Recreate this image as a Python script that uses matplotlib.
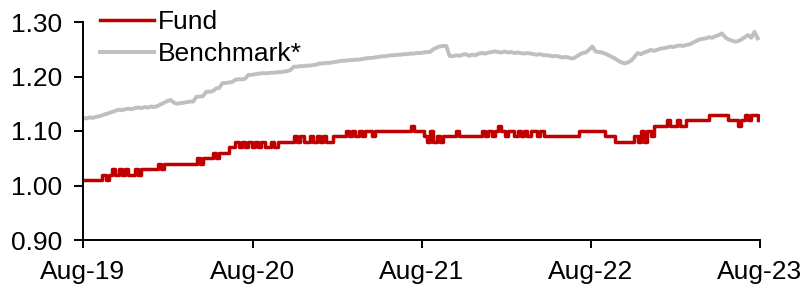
import matplotlib
matplotlib.use("Agg")
import matplotlib.pyplot as plt
import matplotlib.dates as mdates
import pandas as pd

plt.rcParams['font.family'] = ['Liberation Sans', 'DejaVu Sans']

# weekly observations, Aug-2019 .. Aug-2023
dates = pd.date_range('2019-08-01', periods=209, freq='7D')

fund = ([1.01] * 5
        + [1.01, 1.02, 1.01, 1.02, 1.03, 1.02, 1.03, 1.02, 1.03, 1.02, 1.02, 1.03, 1.02]
        + [1.03] * 5
        + [1.04, 1.03, 1.04]
        + [1.04] * 9
        + [1.05, 1.04, 1.05, 1.05, 1.05]
        + [1.06, 1.05, 1.06, 1.06, 1.06]
        + [1.07, 1.07, 1.08, 1.07, 1.08, 1.07, 1.08, 1.07]
        + [1.08, 1.07, 1.08, 1.07, 1.07, 1.08, 1.07, 1.08]
        + [1.08] * 4
        + [1.09, 1.08, 1.09, 1.08, 1.08, 1.09, 1.08, 1.09, 1.08, 1.09, 1.08, 1.08]
        + [1.09] * 4
        + [1.10, 1.09, 1.10, 1.09, 1.10, 1.09, 1.10, 1.10, 1.09, 1.10]
        + [1.10] * 10 + [1.11] + [1.10] * 3
        + [1.09, 1.08, 1.10, 1.08, 1.09, 1.08, 1.09]
        + [1.09, 1.09, 1.09, 1.10, 1.09, 1.09, 1.09, 1.09, 1.09, 1.09, 1.09]
        + [1.10, 1.09, 1.10, 1.09, 1.10, 1.11, 1.10, 1.09, 1.10, 1.10, 1.09,
           1.10, 1.09, 1.10, 1.09, 1.10, 1.10, 1.09, 1.10, 1.09, 1.09]
        + [1.09] * 9
        + [1.10] * 8
        + [1.09] * 3
        + [1.08] * 5
        + [1.08, 1.09, 1.08, 1.10, 1.08, 1.10, 1.09]
        + [1.11] * 4
        + [1.12, 1.11, 1.11, 1.12, 1.11, 1.11, 1.12]
        + [1.12] * 6
        + [1.13] * 6
        + [1.12] * 3
        + [1.11, 1.12, 1.13, 1.12, 1.13, 1.13, 1.12])

benchmark = [
    1.124, 1.123, 1.125, 1.124, 1.126, 1.127,
    1.129, 1.131, 1.133, 1.135, 1.137, 1.139,
    1.138, 1.140, 1.141, 1.140, 1.142, 1.143,
    1.142, 1.144, 1.143, 1.145, 1.144, 1.146,
    1.149, 1.152, 1.155, 1.157, 1.152, 1.150,
    1.151, 1.152, 1.153, 1.154, 1.154, 1.163,
    1.163, 1.164, 1.172, 1.172, 1.173, 1.178,
    1.179, 1.188, 1.188, 1.189, 1.190, 1.194,
    1.195, 1.195, 1.196, 1.203, 1.203, 1.204,
    1.205, 1.206, 1.206, 1.206, 1.207, 1.207,
    1.208, 1.208, 1.209, 1.210, 1.212, 1.218,
    1.218, 1.219, 1.219, 1.220, 1.220, 1.221,
    1.222, 1.224, 1.224, 1.225, 1.225, 1.226,
    1.227, 1.228, 1.229, 1.229, 1.230, 1.230,
    1.231, 1.231, 1.232, 1.233, 1.234, 1.234,
    1.235, 1.236, 1.237, 1.237, 1.238, 1.239,
    1.239, 1.240, 1.240, 1.241, 1.241, 1.242,
    1.242, 1.243, 1.243, 1.244, 1.245, 1.245,
    1.250, 1.253, 1.255, 1.256, 1.256, 1.238,
    1.237, 1.239, 1.238, 1.240, 1.241, 1.238,
    1.240, 1.239, 1.242, 1.243, 1.242, 1.244,
    1.245, 1.246, 1.245, 1.244, 1.246, 1.244,
    1.245, 1.243, 1.244, 1.243, 1.242, 1.243,
    1.242, 1.241, 1.240, 1.241, 1.239, 1.239,
    1.238, 1.237, 1.238, 1.236, 1.235, 1.236,
    1.234, 1.233, 1.236, 1.240, 1.243, 1.244,
    1.249, 1.255, 1.246, 1.245, 1.244, 1.242,
    1.239, 1.236, 1.233, 1.229, 1.226, 1.224,
    1.226, 1.229, 1.236, 1.243, 1.241, 1.244,
    1.246, 1.249, 1.247, 1.249, 1.251, 1.252,
    1.253, 1.255, 1.254, 1.256, 1.257, 1.256,
    1.258, 1.259, 1.262, 1.265, 1.268, 1.269,
    1.270, 1.272, 1.271, 1.274, 1.276, 1.279,
    1.272, 1.268, 1.266, 1.264, 1.265, 1.268,
    1.272, 1.276, 1.271, 1.282, 1.270,
]

y_ticks = [0.90, 1.00, 1.10, 1.20, 1.30]
x_ticks = pd.to_datetime(['2019-08-01', '2020-08-01', '2021-08-01', '2022-08-01', '2023-08-01'])

fig = plt.figure(figsize=(8.05, 2.88), dpi=100)
ax = fig.add_axes([83 / 805, 1 - 240 / 288, 677 / 805, 218 / 288])

ax.plot(dates, fund, color='#C00000', lw=2.5, drawstyle='steps-post', label='Fund')
ax.plot(dates, benchmark, color='#BFBFBF', lw=2.8, label='Benchmark*')

ax.set_xlim(x_ticks[0], x_ticks[-1])
ax.set_ylim(0.90, 1.30)
ax.set_yticks(y_ticks)
ax.yaxis.set_major_formatter(plt.FormatStrFormatter('%.2f'))
ax.set_xticks(x_ticks)
ax.xaxis.set_major_formatter(mdates.DateFormatter('%b-%y'))

for side in ['top', 'right']:
    ax.spines[side].set_visible(False)
for side in ['left', 'bottom']:
    ax.spines[side].set_linewidth(1.4)
ax.tick_params(axis='y', direction='out', length=6.5, width=1.4, pad=8.5, labelsize=19)
ax.tick_params(axis='x', direction='out', length=6, width=1.4, pad=8.5, labelsize=19)

ax.legend(loc='upper left', bbox_to_anchor=(100 / 805, 1 - 10 / 288), bbox_transform=fig.transFigure,
          frameon=False, fontsize=19, handlelength=2.05, handletextpad=0.15,
          labelspacing=0.3, borderpad=0, borderaxespad=0)

fig.savefig('out.png', dpi=100)
